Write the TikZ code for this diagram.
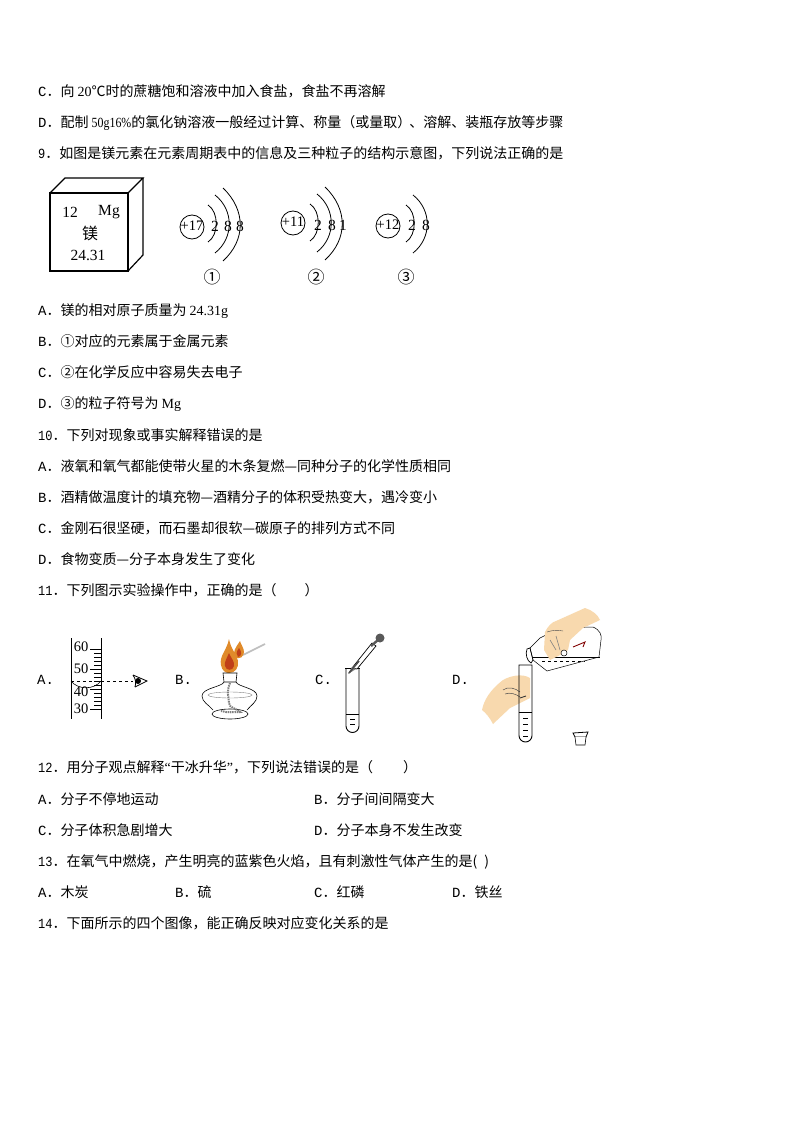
\documentclass[tikz,border=0pt]{standalone}
\usepackage{fontspec}
\setmainfont{Noto Sans CJK SC}
\newfontfamily\tm{Liberation Serif}
\newfontfamily\mn{Liberation Mono}
\newcommand{\dg}[1]{\scalebox{0.857}[1]{\mn #1}}
\definecolor{skin}{HTML}{F8D9AE}
\definecolor{flameout}{HTML}{E08A2A}
\definecolor{flamein}{HTML}{C03F18}
\tikzset{
  txt/.style={anchor=base west, inner sep=0pt, font=\fontsize{14}{16}\selectfont},
  lab/.style={inner sep=0pt, font=\fontsize{15.5}{16}\selectfont\tm},
  nuc/.style={inner sep=0pt, font=\fontsize{14.5}{16}\selectfont\tm},
  atomtag/.style={inner sep=0pt, font=\fontsize{17}{18}\selectfont},
  opt/.style={anchor=base west, inner sep=0pt, font=\fontsize{14}{16}\selectfont\mn},
  tube/.style={line width=0.9pt},
  shell/.style={line width=0.8pt}
}
\newcommand{\atomshells}{
  \draw[shell] (208,205) .. controls (219,212) and (219,235) .. (208,242);
  \draw[shell] (215,195) .. controls (234,210) and (234,238) .. (215,253);
  \draw[shell] (223,188) .. controls (246,210) and (246,240) .. (223,261);
}
\begin{document}
\begin{tikzpicture}[x=1pt, y=-1pt]
        \useasboundingbox[fill=white] (0,0) rectangle (794,1123);
        % --- Question text ---
        \node[txt] (lineC) at (38,97) {{\mn C}．向 {\tm 20}℃时的蔗糖饱和溶液中加入食盐，食盐不再溶解};
        \node[txt] (lineD) at (38,128) {{\mn D}．配制 {\tm\scalebox{0.85}[1]{50g16\%}}的氯化钠溶液一般经过计算、称量（或量取）\kern-2pt、溶解、装瓶存放等步骤};
        \node[txt] (qNine) at (38,159) {\dg{9}．如图是镁元素在元素周期表中的信息及三种粒子的结构示意图，下列说法正确的是};
        \node[txt] (nineA) at (38,315) {{\mn A}．镁的相对原子质量为 {\tm 24.31g}};
        \node[txt] (nineB) at (38,346) {{\mn B}．①对应的元素属于金属元素};
        \node[txt] (nineC) at (38,377) {{\mn C}．②在化学反应中容易失去电子};
        \node[txt] (nineD) at (38,408) {{\mn D}．③的粒子符号为 {\tm Mg}};
        \node[txt] (qTen) at (38,440) {\dg{10}．下列对现象或事实解释错误的是};
        \node[txt] (tenA) at (38,471) {{\mn A}．液氧和氧气都能使带火星的木条复燃—同种分子的化学性质相同};
        \node[txt] (tenB) at (38,502) {{\mn B}．酒精做温度计的填充物—酒精分子的体积受热变大，遇冷变小};
        \node[txt] (tenC) at (38,533) {{\mn C}．金刚石很坚硬，而石墨却很软—碳原子的排列方式不同};
        \node[txt] (tenD) at (38,564) {{\mn D}．食物变质—分子本身发生了变化};
        \node[txt] (qEleven) at (38,595) {\dg{11}．下列图示实验操作中，正确的是（\hspace{28pt}）};
        \node[txt] (qTwelve) at (38,772) {\dg{12}．用分子观点解释{\tm “}干冰升华{\tm ”}，下列说法错误的是（\hspace{30pt}）};
        \node[txt] (twelveA) at (38,804) {{\mn A}．分子不停地运动};
        \node[txt] (twelveB) at (314,804) {{\mn B}．分子间间隔变大};
        \node[txt] (twelveC) at (38,835) {{\mn C}．分子体积急剧增大};
        \node[txt] (twelveD) at (314,835) {{\mn D}．分子本身不发生改变};
        \node[txt] (qThirteen) at (38,866) {\dg{13}．在氧气中燃烧，产生明亮的蓝紫色火焰，且有刺激性气体产生的是({\hspace{7pt}})};
        \node[txt] (thirteenA) at (38,897) {{\mn A}．木炭};
        \node[txt] (thirteenB) at (175,897) {{\mn B}．硫};
        \node[txt] (thirteenC) at (314,897) {{\mn C}．红磷};
        \node[txt] (thirteenD) at (452,897) {{\mn D}．铁丝};
        \node[txt] (qFourteen) at (38,928) {\dg{14}．下面所示的四个图像，能正确反映对应变化关系的是};
        % --- Element cell ---
        \draw[line width=1.2pt] (50,193) rectangle (128,271);
        \draw[line width=1.2pt] (50,193) -- (65,178) -- (143,178) -- (128,193);
        \draw[line width=1.2pt] (143,178) -- (143,255) -- (128,271);
        \node[lab] (cellNum) at (70,212) {12};
        \node[lab] (cellSym) at (109,212) {Mg};
        \node[inner sep=0pt, font=\fontsize{16}{16}\selectfont] (cellName) at (90,233) {镁};
        \node[lab] (cellMass) at (88,255) {24.31};
        % --- Atom one ---
        \draw[line width=0.8pt] (192,227) circle (12);
        \node[nuc] (nucOne) at (192,226) {+17};
        \atomshells
        \node[lab] (oneA) at (215,226) {2};
        \node[lab] (oneB) at (228,226) {8};
        \node[lab] (oneC) at (240,226) {8};
        \node[atomtag] (tagOne) at (212,277) {①};
        % --- Atom two ---
        \draw[line width=0.8pt] (293,223) circle (12);
        \node[nuc] (nucTwo) at (293,222) {+11};
        \begin{scope}[shift={(102,-1)}]
          \atomshells
        \end{scope}
        \node[lab] (twoA) at (318,225) {2};
        \node[lab] (twoB) at (332,225) {8};
        \node[lab] (twoC) at (343,225) {1};
        \node[atomtag] (tagTwo) at (316,277) {②};
        % --- Atom three ---
        \draw[line width=0.8pt] (388,226) circle (12);
        \node[nuc] (nucThree) at (388,225) {+12};
        \draw[shell] (406,205) .. controls (417,212) and (417,235) .. (406,242);
        \draw[shell] (413,195) .. controls (432,210) and (432,238) .. (413,253);
        \node[lab] (threeA) at (412,225) {2};
        \node[lab] (threeB) at (426,225) {8};
        \node[atomtag] (tagThree) at (406,277) {③};
        % --- A: cylinder ---
        \node[opt] (optA) at (37,684) {A.};
        \draw[line width=0.8pt] (71,638) -- (71,719);
        \draw[line width=0.8pt] (101,638) -- (101,719);
        \foreach \y in {649,653,...,709} {\draw[line width=0.6pt] (94,\y) -- (101,\y);}
        \foreach \y in {649,669,689,709} {\draw[line width=0.6pt] (90,\y) -- (101,\y);}
        \node[nuc] (scaleA) at (81,647) {60};
        \node[nuc] (scaleB) at (81,669) {50};
        \node[nuc] (scaleC) at (81,692) {40};
        \node[nuc] (scaleD) at (81,709) {30};
        \draw[line width=0.6pt] (71,681) .. controls (78,690) and (94,690) .. (101,681);
        \draw[dashed, line width=0.7pt] (71,681) -- (133,681);
        \draw[line width=0.8pt] (133,675) -- (147,681) -- (135,687);
        \draw[line width=0.8pt] (133,675) .. controls (136,679) and (136,684) .. (135,687);
        \fill (138,681) circle (3);
        % --- B: spirit lamp ---
        \node[opt] (optB) at (175,684) {B.};
        \draw[lightgray, line width=1.6pt] (243,655) -- (265,644);
        \fill[flameout] (240,641) .. controls (236,647) and (232,652) .. (235,657) .. controls (239,660) and (244,657) .. (244,652) .. controls (244,648) and (241,645) .. (240,641) -- cycle;
        \fill[flamein] (239,648) .. controls (236,652) and (236,655) .. (238,657) .. controls (242,656) and (242,652) .. (239,648) -- cycle;
        \fill[flameout] (229,639) .. controls (227,650) and (219,656) .. (221,665) .. controls (222,671) and (226,673) .. (229,673) .. controls (235,673) and (239,668) .. (238,661) .. controls (237,654) and (231,650) .. (229,639) -- cycle;
        \fill[flamein] (229,653) .. controls (227,658) and (224,662) .. (225,666) .. controls (226,671) and (233,671) .. (234,666) .. controls (235,662) and (231,658) .. (229,653) -- cycle;
        \draw[line width=0.6pt] (223,673) -- (237,673) -- (236,682) -- (224,682) -- cycle;
        \draw[line width=0.6pt] (224,682) .. controls (222,687) and (202,688) .. (202,696) .. controls (202,702) and (209,705) .. (213,710);
        \draw[line width=0.6pt] (236,682) .. controls (238,687) and (257,688) .. (257,696) .. controls (257,702) and (251,705) .. (247,710);
        \draw[gray, line width=0.4pt] (230,695) ellipse (22 and 3);
        \draw[line width=0.6pt] (230,714) ellipse (18 and 5);
        \draw[gray, line width=2pt, dash pattern=on 1.5pt off 0.8pt] (230,683) .. controls (226,692) and (229,698) .. (229,703) .. controls (229,708) and (236,708) .. (240,712) .. controls (234,712) and (228,713) .. (221,711);
        % --- C: dropper and test tube ---
        \node[opt] (optC) at (315,684) {C.};
        \draw[tube] (345,668) -- (360,668);
        \draw[tube] (346,668) -- (346,726) arc[start angle=180, end angle=0, radius=6.5] -- (359,668);
        \draw[line width=0.6pt] (346,714) -- (359,714);
        \draw[line width=0.6pt] (350,719) -- (355,719);
        \draw[line width=0.6pt] (350,724) -- (355,724);
        \draw[line width=0.7pt, fill=white] (352,668) -- (372,643) -- (376,646) -- (357,669) -- cycle;
        \fill[gray] (348,674) -- (352,667) -- (356,669) -- cycle;
        \draw[black!70, line width=1.6pt] (349,673) -- (359,661);
        \fill[black!65] (380,638) circle (4.5);
        \draw[black!65, line width=2.4pt] (371,646) -- (378,640);
        % --- D: pouring into a test tube ---
        \node[opt] (optD) at (452,684) {D.};
        \fill[skin] (482,710) .. controls (484,700) and (490,690) .. (503,680) .. controls (510,676) and (522,673) .. (530,678) -- (530,698) -- (520,703) -- (510,708) -- (493,724) .. controls (490,718) and (486,713) .. (482,710) -- cycle;
        \draw[black!70, line width=0.5pt] (503,690) .. controls (508,686) and (515,688) .. (520,692);
        \draw[black!70, line width=0.5pt] (505,694) .. controls (510,692) and (516,694) .. (520,697);
        \draw[black!80, line width=0.9pt] (520,698) -- (526,696);
        \draw[tube] (519,665) -- (519,735.5) arc[start angle=180, end angle=0, radius=6.5] -- (532,665) -- cycle;
        \draw[line width=0.6pt] (519,712) -- (532,712);
        \foreach \y in {718,724,730,736} {\draw[line width=0.6pt] (523,\y) -- (528,\y);}
        % bottle
        \draw[line width=0.5pt, fill=white] (530,648) -- (540,638) -- (560,628) -- (593,627) .. controls (600,630) and (602,635) .. (601,640) -- (599,657) -- (547,671) -- (533,660) -- cycle;
        \draw[line width=0.7pt] (527,649) .. controls (525,654) and (527,661) .. (531,663) -- (533,660) -- (530,648) -- cycle;
        \draw[line width=0.7pt] (532,657) -- (600,657);
        \draw[dashed, line width=0.6pt] (542,661) -- (585,661);
        \draw[red!50!black, line width=0.9pt] (573,647) -- (585,642) -- (583,647);
        \fill[skin] (545,632) .. controls (548,626) and (552,622) .. (556,621) -- (585,608) .. controls (592,610) and (598,615) .. (600,620) -- (583,628) -- (570,640) -- (568,650) -- (560,655) -- (550,660) -- (544,650) -- cycle;
        \draw[gray!60!black, line width=0.4pt] (547,632) .. controls (553,630) and (558,630) .. (563,631);
        \draw[gray, line width=0.6pt] (550,640) -- (556,650) (556,636) -- (560,650);
        \draw[line width=0.5pt, fill=white] (564,653) circle (3);
        % stopper
        \draw[line width=0.8pt] (573,733) -- (588,732) -- (586,737) -- (575,737) -- cycle;
        \draw[line width=0.6pt, fill=white] (575,737) -- (576,745) -- (585,745) -- (586,737);
        % ---
\end{tikzpicture}
\end{document}
